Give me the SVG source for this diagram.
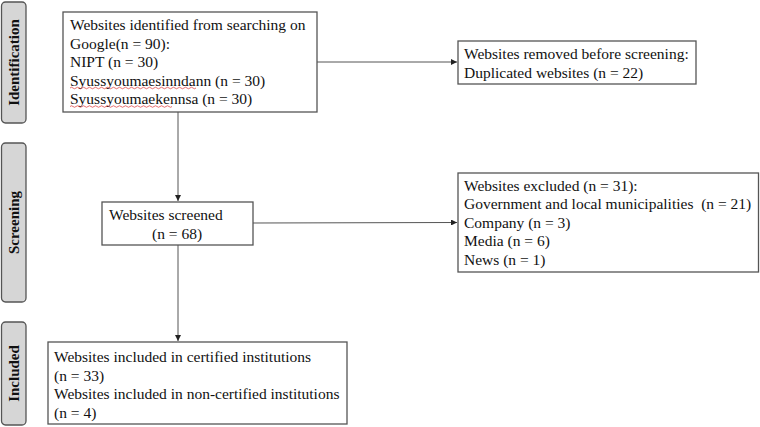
<svg xmlns="http://www.w3.org/2000/svg" width="760" height="427" viewBox="0 0 760 427">
<defs>
<style>
.box{fill:#fff;stroke:#555;stroke-width:1.3}
.side{fill:#d6d6d6;stroke:#555;stroke-width:1.3}
.t{font-family:"Liberation Serif","Times New Roman",serif;font-size:15.5px;fill:#111;white-space:pre}
.st{font-family:"Liberation Serif","Times New Roman",serif;font-size:15px;font-weight:bold;fill:#111}
.c{stroke:#555;stroke-width:1;fill:none}
.sq{stroke:#d33;stroke-width:0.7;fill:none}
</style>
<marker id="ah" viewBox="0 0 6 6" refX="6" refY="3" markerWidth="6" markerHeight="6" orient="auto" markerUnits="userSpaceOnUse">
<path d="M0,0 L6,3 L0,6 z" fill="#222"/>
</marker>
</defs>
<g id="side-identification">
<rect class="side" x="1.5" y="2" width="24.5" height="121" rx="4"/>
<text class="st" transform="translate(19,62.5) rotate(-90)" text-anchor="middle">Identification</text>
</g>
<g id="side-screening">
<rect class="side" x="1.5" y="143" width="24.5" height="159" rx="4"/>
<text class="st" transform="translate(19,222.5) rotate(-90)" text-anchor="middle">Screening</text>
</g>
<g id="side-included">
<rect class="side" x="1.5" y="322" width="24.5" height="103" rx="4"/>
<text class="st" transform="translate(19,373.5) rotate(-90)" text-anchor="middle">Included</text>
</g>
<g id="connectors">
<line class="c" x1="317" y1="62" x2="457" y2="62" marker-end="url(#ah)"/>
<line class="c" x1="178" y1="112" x2="178" y2="201" marker-end="url(#ah)"/>
<line class="c" x1="253" y1="223" x2="457" y2="222.5" marker-end="url(#ah)"/>
<line class="c" x1="178" y1="245" x2="178" y2="341" marker-end="url(#ah)"/>
</g>
<g id="node-identified">
<rect class="box" x="63" y="12" width="254" height="100"/>
<text class="t" x="70" y="30">Websites identified from searching on</text>
<text class="t" x="70" y="48.5">Google(n = 90):</text>
<text class="t" x="70" y="67">NIPT (n = 30)</text>
<text class="t" x="70" y="85.5">Syussyoumaesinndann (n = 30)</text>
<text class="t" x="70" y="104">Syussyoumaekennsa (n = 30)</text>
<path class="sq" d="M70,88 q1.5,-1.5 3,0 t3,0 t3,0 t3,0 t3,0 t3,0 t3,0 t3,0 t3,0 t3,0 t3,0 t3,0 t3,0 t3,0 t3,0 t3,0 t3,0 t3,0 t3,0 t3,0 t3,0 t3,0 t3,0 t3,0 t3,0 t3,0 t3,0 t3,0 t3,0 t3,0 t3,0 t3,0 t3,0 t3,0 t3,0 t3,0 t3,0 t3,0 t3,0 t3,0 t3,0 t3,0"/>
<path class="sq" d="M70,106.5 q1.5,-1.5 3,0 t3,0 t3,0 t3,0 t3,0 t3,0 t3,0 t3,0 t3,0 t3,0 t3,0 t3,0 t3,0 t3,0 t3,0 t3,0 t3,0 t3,0 t3,0 t3,0 t3,0 t3,0 t3,0 t3,0 t3,0 t3,0 t3,0 t3,0 t3,0 t3,0 t3,0 t3,0 t3,0 t3,0"/>
</g>
<g id="node-removed">
<rect class="box" x="458" y="41" width="238" height="43"/>
<text class="t" x="464" y="59">Websites removed before screening:</text>
<text class="t" x="464" y="77.5">Duplicated websites (n = 22)</text>
</g>
<g id="node-screened">
<rect class="box" x="102" y="202" width="151" height="43"/>
<text class="t" x="109" y="220">Websites screened</text>
<text class="t" x="152" y="238.5">(n = 68)</text>
</g>
<g id="node-excluded">
<rect class="box" x="458" y="173" width="300.5" height="99"/>
<text class="t" x="464" y="190.5">Websites excluded (n = 31):</text>
<text class="t" x="464" y="209" xml:space="preserve">Government and local municipalities  (n = 21)</text>
<text class="t" x="464" y="227.5">Company (n = 3)</text>
<text class="t" x="464" y="246">Media (n = 6)</text>
<text class="t" x="464" y="264.5">News (n = 1)</text>
</g>
<g id="node-included">
<rect class="box" x="48" y="342" width="299" height="82"/>
<text class="t" x="54" y="362">Websites included in certified institutions</text>
<text class="t" x="54" y="380.5">(n = 33)</text>
<text class="t" x="54" y="399">Websites included in non-certified institutions</text>
<text class="t" x="54" y="417.5">(n = 4)</text>
</g>
</svg>
